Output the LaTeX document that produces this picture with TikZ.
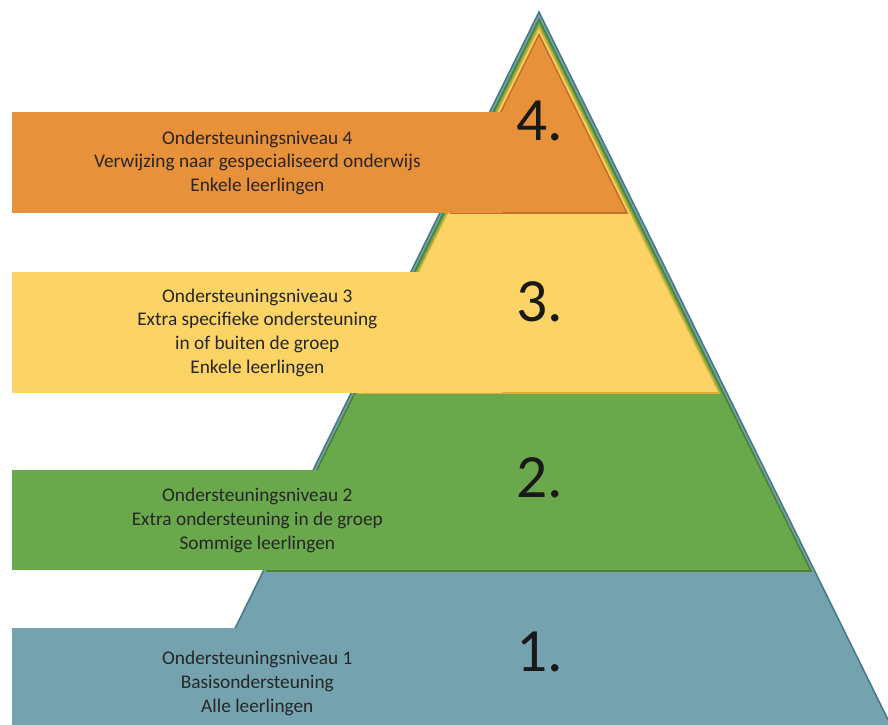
\documentclass[tikz,border=0pt]{standalone}
\usepackage{fontspec}
\setmainfont{Carlito}
\definecolor{bluefill}{HTML}{74A3AF}
\definecolor{blueline}{HTML}{457A86}
\definecolor{greenfill}{HTML}{6AA84C}
\definecolor{greenline}{HTML}{4E8034}
\definecolor{yellowfill}{HTML}{FBD465}
\definecolor{yellowline}{HTML}{D9AE3C}
\definecolor{orangefill}{HTML}{E8913B}
\definecolor{orangeline}{HTML}{C4712A}

\begin{document}
\begin{tikzpicture}[x=0.02cm,y=-0.02cm,
  layer/.style={line width=0.9pt,line join=miter},
  band/.style={anchor=north west,minimum width=9.8cm,inner sep=0pt,align=center,
    text=black!85,font=\fontsize{11}{13.6}\selectfont},
  num/.style={font=\fontsize{35}{40}\selectfont,text=black!90}]
   \useasboundingbox (0,0) rectangle (888,724);
   \clip (0,0) rectangle (888,724);
   % pyramid, one triangle per level
   \filldraw[layer,fill=bluefill,draw=blueline] (539,12) -- (180,740) -- (898,740) -- cycle;
   \filldraw[layer,fill=greenfill,draw=greenline] (539,19.5) -- (267,571) -- (811,571) -- cycle;
   \filldraw[layer,fill=yellowfill,draw=yellowline] (539,27) -- (358.6,393) -- (719.4,393) -- cycle;
   \filldraw[layer,fill=orangefill,draw=orangeline] (539,34.5) -- (451,213) -- (627,213) -- cycle;
   % text bands
   \node[band,fill=orangefill,minimum height=2.02cm] (box4) at (12,112)
     {Ondersteuningsniveau 4\\Verwijzing naar gespecialiseerd onderwijs\\Enkele leerlingen};
   \node[band,fill=yellowfill,minimum height=2.42cm] (box3) at (12,272)
     {Ondersteuningsniveau 3\\Extra specifieke ondersteuning\\in of buiten de groep\\Enkele leerlingen};
   \node[band,fill=greenfill,minimum height=2cm] (box2) at (12,470)
     {Ondersteuningsniveau 2\\Extra ondersteuning in de groep\\Sommige leerlingen};
   \node[band,fill=bluefill,minimum height=2.2cm] (box1) at (12,628)
     {Ondersteuningsniveau 1\\Basisondersteuning\\Alle leerlingen};
   % level numbers
   \node[num] (n4) at (540,121) {4.};
   \node[num] (n3) at (540,302) {3.};
   \node[num] (n2) at (540,478) {2.};
   \node[num] (n1) at (540,652) {1.};
\end{tikzpicture}
\end{document}
